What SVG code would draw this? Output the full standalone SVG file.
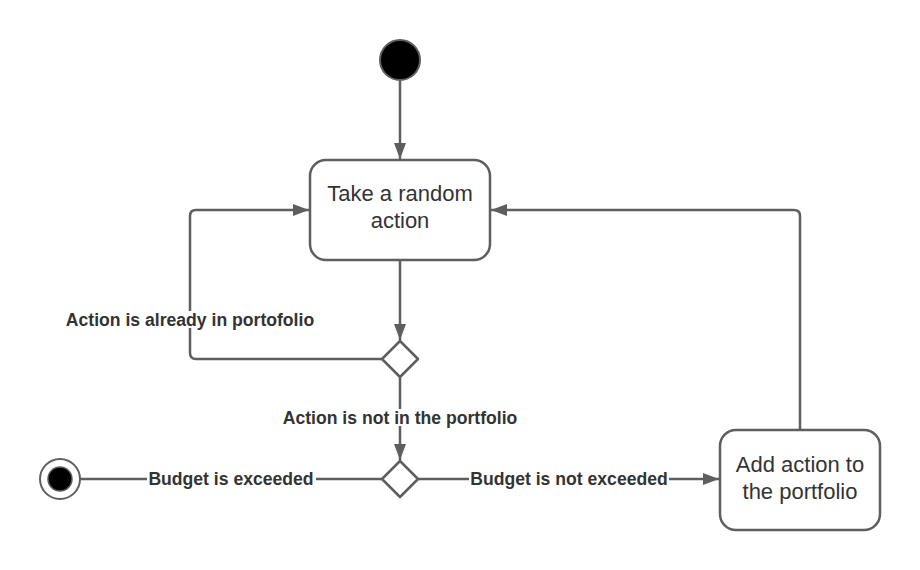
<svg xmlns="http://www.w3.org/2000/svg" width="920" height="570" viewBox="0 0 920 570">
<style>
.ln{fill:none;stroke:#5e5e5e;stroke-width:2.5;stroke-linejoin:round}
.nd{fill:#fff;stroke:#5e5e5e;stroke-width:2.5}
.tx{font-family:"Liberation Sans",Arial,sans-serif;font-size:22px;fill:#333;text-anchor:middle}
.lb{font-family:"Liberation Sans",Arial,sans-serif;font-size:17.6px;font-weight:bold;fill:#333;text-anchor:middle}
.bg{fill:#fff}
</style>
<defs>
<marker id="ah" viewBox="0 0 16 12" refX="16" refY="6" markerWidth="16" markerHeight="12" markerUnits="userSpaceOnUse" orient="auto">
<path d="M0,0 L16,6 L0,12 Z" fill="#5e5e5e"/>
</marker>
</defs>
<rect width="920" height="570" fill="#fff"/>
<g id="connectors">
<path class="ln" d="M400,80 V159" marker-end="url(#ah)"/>
<path class="ln" d="M400,260 V340" marker-end="url(#ah)"/>
<path class="ln" d="M382,359 H196 Q190,359 190,353 V216 Q190,210 196,210 H309" marker-end="url(#ah)"/>
<path class="ln" d="M400,377 V460" marker-end="url(#ah)"/>
<path class="ln" d="M382,479 H80"/>
<path class="ln" d="M418,479 H719" marker-end="url(#ah)"/>
<path class="ln" d="M800,430 V216 Q800,210 794,210 H491" marker-end="url(#ah)"/>
<g id="labels">
<rect class="bg" x="64" y="311" width="252" height="17"/>
<text class="lb" x="190" y="326">Action is already in portofolio</text>
<rect class="bg" x="282" y="409" width="237" height="17"/>
<text class="lb" x="400" y="424">Action is not in the portfolio</text>
<rect class="bg" x="147" y="470" width="169" height="17"/>
<text class="lb" x="231" y="485">Budget is exceeded</text>
<rect class="bg" x="469" y="470" width="200" height="17"/>
<text class="lb" x="569" y="485">Budget is not exceeded</text>
</g>
</g>
<g id="start"><circle cx="400" cy="60" r="20" fill="#000" stroke="#5e5e5e" stroke-width="2"/></g>
<g id="take-action">
<rect class="nd" x="310" y="160" width="180" height="100" rx="16"/>
<text class="tx" x="400" y="201">Take a random</text>
<text class="tx" x="400" y="228">action</text>
</g>
<g id="decision1"><path class="nd" d="M400,341 L418,359 L400,377 L382,359 Z" stroke-linejoin="round"/></g>
<g id="decision2"><path class="nd" d="M400,461 L418,479 L400,497 L382,479 Z" stroke-linejoin="round"/></g>
<g id="end">
<circle cx="60" cy="479" r="20" fill="#fff" stroke="#5e5e5e" stroke-width="2"/>
<circle cx="60" cy="479" r="12" fill="#000" stroke="#5e5e5e" stroke-width="1.5"/>
</g>
<g id="add-action">
<rect class="nd" x="720" y="430" width="160" height="100" rx="16"/>
<text class="tx" x="800" y="472">Add action to</text>
<text class="tx" x="800" y="499">the portfolio</text>
</g>
</svg>
